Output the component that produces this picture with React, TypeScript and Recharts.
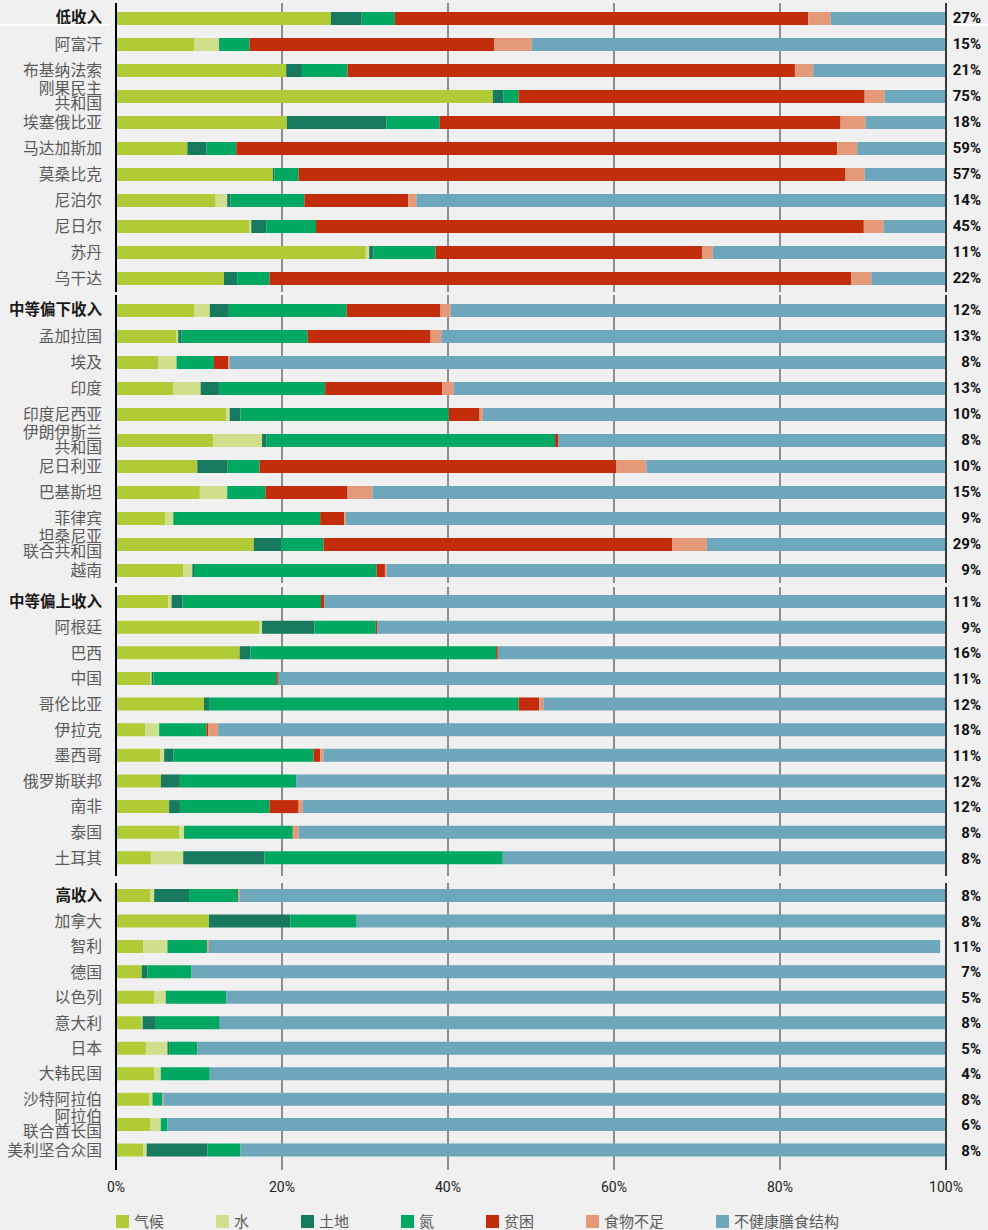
import React from 'react';
import { BarChart, Bar, XAxis, YAxis, CartesianGrid } from 'recharts';

const countries = [
  '低收入', '阿富汗', '布基纳法索', '刚果民主\n共和国', '埃塞俄比亚', '马达加斯加', '莫桑比克', '尼泊尔', '尼日尔', '苏丹', '乌干达',
  '中等偏下收入', '孟加拉国', '埃及', '印度', '印度尼西亚', '伊朗伊斯兰\n共和国', '尼日利亚', '巴基斯坦', '菲律宾', '坦桑尼亚\n联合共和国', '越南',
  '中等偏上收入', '阿根廷', '巴西', '中国', '哥伦比亚', '伊拉克', '墨西哥', '俄罗斯联邦', '南非', '泰国', '土耳其',
  '高收入', '加拿大', '智利', '德国', '以色列', '意大利', '日本', '大韩民国', '沙特阿拉伯', '阿拉伯\n联合酋长国', '美利坚合众国',
];
const headerRows = ['低收入', '中等偏下收入', '中等偏上收入', '高收入'];

const shareLabels = [
  '27%', '15%', '21%', '75%', '18%', '59%', '57%', '14%', '45%', '11%', '22%',
  '12%', '13%', '8%', '13%', '10%', '8%', '10%', '15%', '9%', '29%', '9%',
  '11%', '9%', '16%', '11%', '12%', '18%', '11%', '12%', '12%', '8%', '8%',
  '8%', '8%', '11%', '7%', '5%', '8%', '5%', '4%', '8%', '6%', '8%',
];

const climate = [
  25.9, 9.4, 20.5, 45.4, 20.6, 8.6, 18.9, 12.0, 16.1, 30.1, 13.0,
  9.4, 7.3, 5.1, 6.9, 13.3, 11.7, 9.8, 10.1, 5.9, 16.6, 8.1,
  6.3, 17.3, 14.9, 4.1, 10.6, 3.5, 5.3, 5.4, 6.4, 7.6, 4.2,
  4.1, 11.2, 3.3, 3.1, 4.6, 3.1, 3.6, 4.6, 4.0, 4.1, 3.3,
];
const water = [
  0, 3.0, 0, 0, 0, 0, 0, 1.4, 0.2, 0.4, 0,
  1.9, 0.2, 2.2, 3.3, 0.4, 5.9, 0, 3.3, 1.0, 0, 1.1,
  0.4, 0.3, 0, 0.2, 0, 1.7, 0.5, 0, 0, 0.6, 3.9,
  0.5, 0, 2.9, 0, 1.4, 0.1, 2.6, 0.8, 0.4, 1.3, 0.4,
];
const land = [
  3.7, 0.1, 1.9, 1.3, 12.0, 2.3, 0.2, 0.4, 1.8, 0.5, 1.6,
  2.3, 0.4, 0, 2.2, 1.3, 0.5, 3.6, 0, 0, 3.3, 0.2,
  1.3, 6.3, 1.3, 0.2, 0.7, 0, 1.1, 2.3, 1.3, 0, 9.8,
  4.2, 9.8, 0, 0.7, 0, 1.6, 0.2, 0, 0, 0, 7.3,
];
const nitrogen = [
  4.0, 3.6, 5.5, 1.8, 6.4, 3.6, 2.9, 8.9, 6.0, 7.5, 3.9,
  14.2, 15.2, 4.5, 12.8, 25.1, 34.8, 3.9, 4.6, 17.7, 5.1, 22.0,
  16.7, 7.4, 29.6, 14.8, 37.2, 5.7, 16.9, 14.0, 10.8, 13.1, 28.7,
  5.9, 8.0, 4.8, 5.3, 7.3, 7.7, 3.4, 5.9, 1.2, 0.8, 4.0,
];
const poverty = [
  49.8, 29.5, 53.9, 41.7, 48.3, 72.4, 65.9, 12.5, 66.0, 32.1, 70.1,
  11.3, 14.8, 1.7, 14.1, 3.7, 0.4, 43.0, 9.9, 2.9, 42.0, 1.0,
  0.4, 0.2, 0.2, 0.2, 2.5, 0.2, 0.8, 0, 3.5, 0, 0,
  0, 0, 0, 0, 0, 0, 0, 0, 0, 0, 0,
];
const undernourishment = [
  2.7, 4.5, 2.2, 2.4, 3.0, 2.4, 2.3, 1.0, 2.4, 1.3, 2.4,
  1.2, 1.3, 0.2, 1.4, 0.4, 0, 3.6, 3.0, 0.2, 4.2, 0.2,
  0, 0, 0, 0, 0.5, 1.2, 0.4, 0, 0.5, 0.7, 0,
  0.2, 0, 0.2, 0, 0, 0, 0, 0, 0.1, 0, 0,
];
const unhealthyDiet = [
  13.9, 49.9, 16.0, 7.4, 9.7, 10.7, 9.8, 63.8, 7.5, 28.1, 9.0,
  59.7, 60.8, 86.3, 59.3, 55.8, 46.7, 36.1, 69.1, 72.3, 28.8, 67.4,
  74.9, 68.5, 54.0, 80.5, 48.5, 87.7, 75.0, 78.3, 77.5, 78.0, 53.4,
  85.1, 71.0, 88.1, 90.9, 86.7, 87.5, 90.2, 88.7, 94.3, 93.8, 85.0,
];

const seriesNames = ['气候', '水', '土地', '氮', '贫困', '食物不足', '不健康膳食结构'];
const seriesKeys = ['climate', 'water', 'land', 'nitrogen', 'poverty', 'undernourishment', 'unhealthyDiet'];
const seriesColors = ['#b1cb36', '#cfdf8b', '#17795d', '#00a862', '#c22e0c', '#e49a78', '#6ea6bc'];
const xTicks = [0, 20, 40, 60, 80, 100];

const table = countries.map((name, i) => ({
  name,
  share: shareLabels[i],
  climate: climate[i],
  water: water[i],
  land: land[i],
  nitrogen: nitrogen[i],
  poverty: poverty[i],
  undernourishment: undernourishment[i],
  unhealthyDiet: unhealthyDiet[i],
}));
const shareByName = new Map(table.map((r) => [r.name, r.share]));

const GROUP = 11;
const panels = [
  { top: 3, bottom: 292, padTop: 2, padBottom: 1 },
  { top: 295, bottom: 583, padTop: 2, padBottom: 0 },
  { top: 587, bottom: 876, padTop: 2, padBottom: 5 },
  { top: 883, bottom: 1170, padTop: 0, padBottom: 7 },
];

const CJK = "'Noto Sans CJK SC', 'Noto Sans', sans-serif";
const NUM = "'Liberation Sans Narrow', 'Roboto', 'Noto Sans', sans-serif";

const renderLeftTick = (props: any) => {
  const { x, y, payload } = props;
  const name: string = payload.value;
  const bold = headerRows.includes(name);
  const lines = name.split('\n');
  return (
    <text
      x={x}
      y={y}
      textAnchor="end"
      fontFamily={CJK}
      fontSize={bold ? 15.5 : 15.8}
      fontWeight={bold ? 700 : 400}
      fill={bold ? '#1a1a1a' : '#5a5a5a'}
    >
      {lines.length === 1 ? (
        <tspan x={x} y={y} dy="0.35em">{name}</tspan>
      ) : (
        lines.map((l, i) => (
          <tspan key={i} x={x} y={y + (i === 0 ? -8 : 7)} dy="0.35em">{l}</tspan>
        ))
      )}
    </text>
  );
};

const renderRightTick = (props: any) => {
  const { x, y, payload } = props;
  const name: string = payload.value;
  return (
    <text x={x} y={y} dy="0.36em" textAnchor="end" fontFamily={NUM} fontSize={15} fontWeight={700} fill="#111">
      {shareByName.get(name)}
    </text>
  );
};

const renderXTick = (props: any) => {
  const { x, y, payload } = props;
  return (
    <text x={x} y={y + 22} textAnchor="middle" fontFamily={NUM} fontSize={14} fill="#222">
      {`${payload.value}%`}
    </text>
  );
};

function Panel({ index }: { index: number }) {
  const p = panels[index];
  const rows = table.slice(index * GROUP, index * GROUP + GROUP);
  const showX = index === panels.length - 1;
  const height = p.bottom - p.top + (showX ? 30 : 0);
  return (
    <div style={{ position: 'absolute', left: 0, top: p.top }}>
      <BarChart
        layout="vertical"
        width={988}
        height={height}
        data={rows}
        margin={{ top: 0, right: 0, bottom: 0, left: 6 }}
      >
        <CartesianGrid horizontal={false} stroke="#2a2a2a" strokeWidth={1} />
        <XAxis
          type="number"
          domain={[0, 100]}
          ticks={xTicks}
          allowDataOverflow
          hide={!showX}
          height={30}
          axisLine={false}
          tickLine={false}
          tickSize={0}
          tickMargin={0}
          tick={renderXTick}
        />
        <YAxis
          yAxisId="left"
          type="category"
          dataKey="name"
          width={110}
          interval={0}
          axisLine={{ stroke: '#000', strokeWidth: 2 }}
          tickLine={false}
          tickSize={0}
          tickMargin={14}
          tick={renderLeftTick}
          padding={{ top: p.padTop, bottom: p.padBottom }}
        />
        <YAxis
          yAxisId="right"
          orientation="right"
          type="category"
          dataKey="name"
          width={42}
          interval={0}
          axisLine={{ stroke: '#000', strokeWidth: 1.2 }}
          tickLine={false}
          tickSize={0}
          tickMargin={35}
          tick={renderRightTick}
          padding={{ top: p.padTop, bottom: p.padBottom }}
        />
        {seriesKeys.map((k, i) => (
          <Bar
            key={k}
            yAxisId="left"
            dataKey={k}
            name={seriesNames[i]}
            stackId="s"
            fill={seriesColors[i]}
            barSize={13}
            isAnimationActive={false}
          />
        ))}
      </BarChart>
    </div>
  );
}

export default function App() {
  return (
    <div style={{ position: 'relative', width: 988, height: 1230, background: '#f0f0f0', overflow: 'hidden' }}>
      <style>{'body{margin:0;background:#f0f0f0;}'}</style>
      {panels.map((_, i) => (
        <Panel key={i} index={i} />
      ))}
      <div style={{ position: 'absolute', left: 0, top: 24, width: 110, height: 2, background: '#fff' }} />
      <div style={{ position: 'absolute', left: 953, top: 24, width: 35, height: 2, background: '#fff' }} />
      <div
        style={{
          position: 'absolute',
          left: 116,
          top: 1212,
          display: 'flex',
          alignItems: 'center',
          fontFamily: CJK,
          fontSize: 15,
          color: '#5a5a5a',
          lineHeight: '18px',
        }}
      >
        {seriesNames.map((n, i) => (
          <div key={n} style={{ display: 'flex', alignItems: 'center', marginRight: 52 }}>
            <span style={{ display: 'inline-block', width: 13, height: 13, background: seriesColors[i], marginRight: 5 }} />
            <span>{n}</span>
          </div>
        ))}
      </div>
    </div>
  );
}
